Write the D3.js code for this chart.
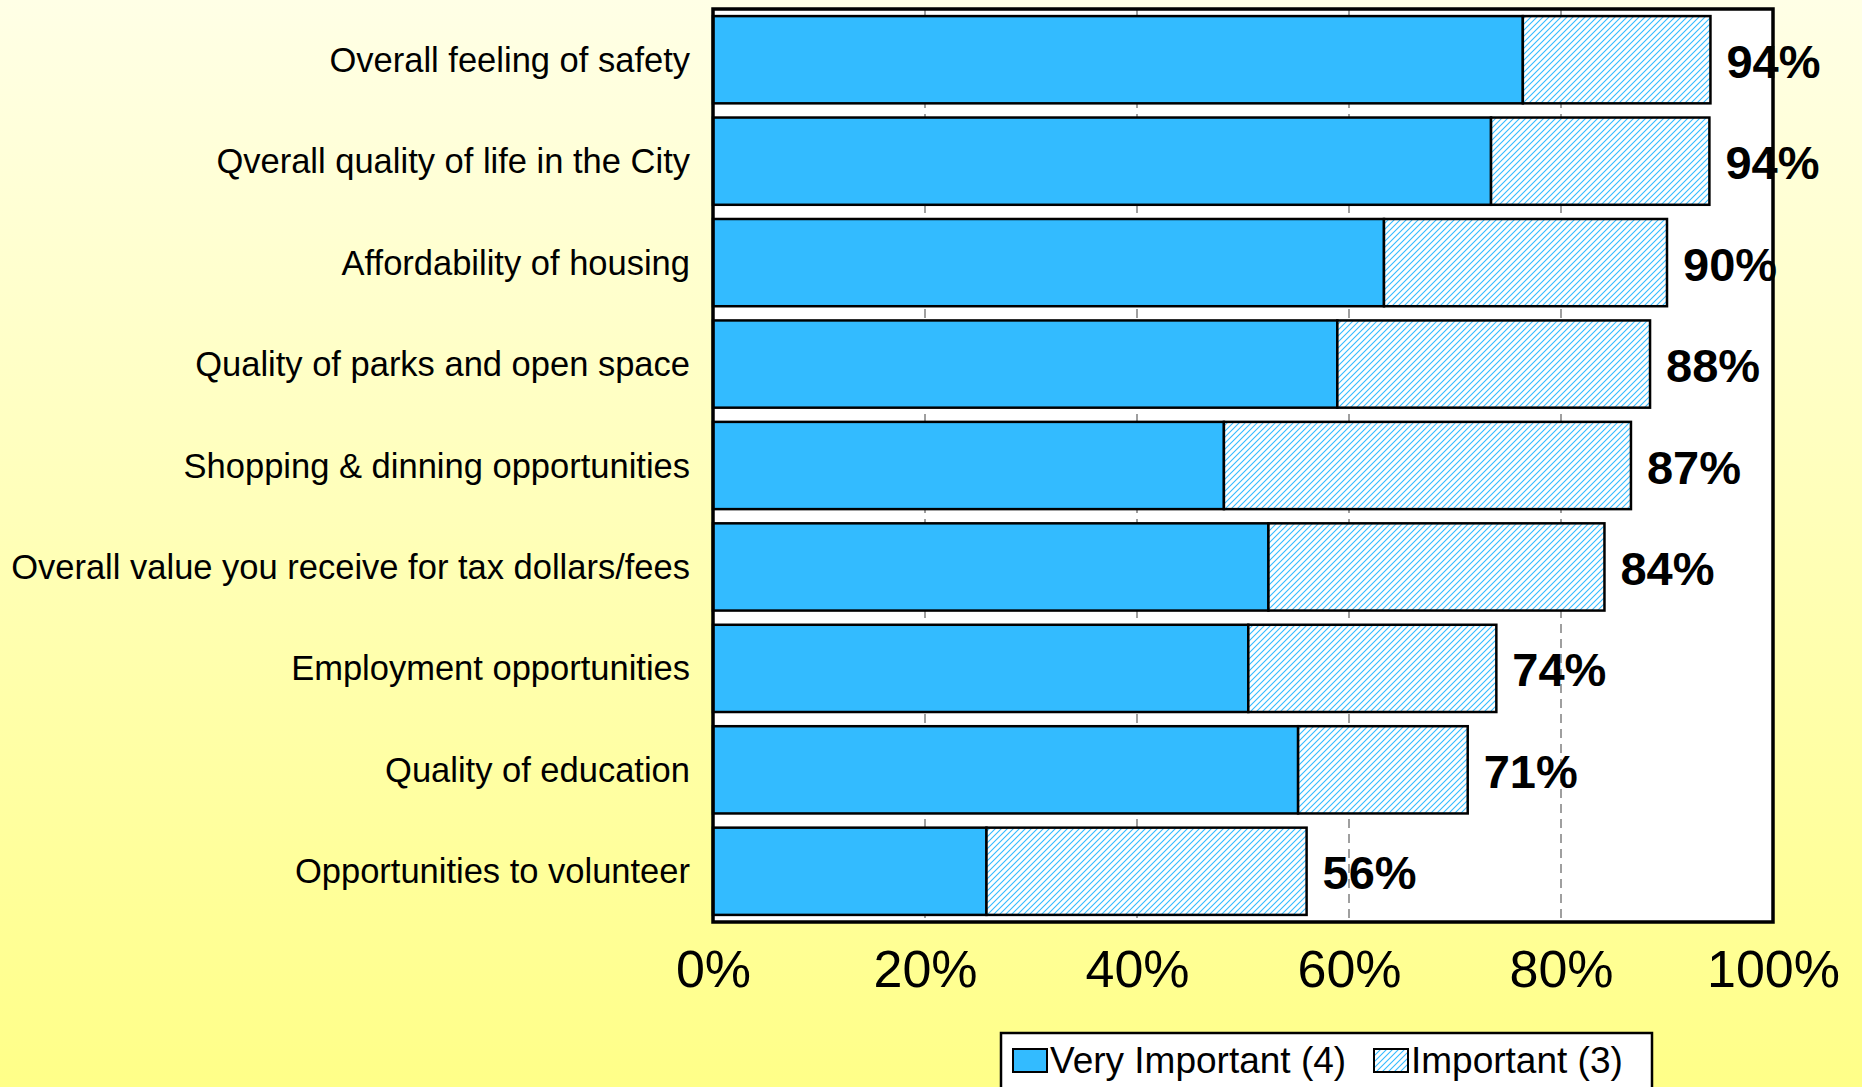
<!DOCTYPE html>
<html><head><meta charset="utf-8">
<script src="https://cdn.jsdelivr.net/npm/d3@7"></script>
<style>html,body{margin:0;padding:0;overflow:hidden;}svg{display:block;}</style>
</head><body>
<script>
const categories = [
  "Overall feeling of safety",
  "Qverall quality of life in the City",
  "Affordability of housing",
  "Quality of parks and open space",
  "Shopping & dinning opportunities",
  "Overall value you receive for tax dollars/fees",
  "Employment opportunities",
  "Quality of education",
  "Opportunities to volunteer"
];
const veryImportant = [76.4, 73.4, 63.3, 58.9, 48.2, 52.4, 50.5, 55.2, 25.8];
const important =     [17.7, 20.6, 26.7, 29.5, 38.4, 31.7, 23.4, 16.0, 30.2];
const totalLabels = ["94%", "94%", "90%", "88%", "87%", "84%", "74%", "71%", "56%"];
const tickValues = [0, 20, 40, 60, 80, 100];
const seriesNames = ["Very Important (4)", "Important (3)"];

const W = 1862, H = 1087;
const svg = d3.select("body").append("svg").attr("width", W).attr("height", H);
const defs = svg.append("defs");
const bg = defs.append("linearGradient").attr("id","bg").attr("x1",0).attr("y1",0).attr("x2",0).attr("y2",1);
bg.append("stop").attr("offset","0%").attr("stop-color","#FFFFE6");
bg.append("stop").attr("offset","100%").attr("stop-color","#FFFF88");
const pat = defs.append("pattern").attr("id","hatch").attr("patternUnits","userSpaceOnUse")
  .attr("width",6).attr("height",6);
pat.append("rect").attr("width",6).attr("height",6).attr("fill","#fff");
pat.append("path").attr("d","M0,6 L6,0 M-1.5,1.5 L1.5,-1.5 M4.5,7.5 L7.5,4.5")
  .attr("stroke","#33BBFF").attr("stroke-width",1.1);

svg.append("rect").attr("width",W).attr("height",H).attr("fill","url(#bg)");

const x0 = 713, x1 = 1773, y0 = 9, y1 = 922;
const x = d3.scaleLinear().domain([0,100]).range([x0,x1]);
const y = d3.scaleBand().domain(categories).range([y0,y1]).paddingInner(0.14).paddingOuter(0.07);

svg.append("rect").attr("x",x0).attr("y",y0).attr("width",x1-x0).attr("height",y1-y0).attr("fill","#fff");

// gridlines
svg.append("g").selectAll("line").data(tickValues.filter(t=>t>0 && t<100)).join("line")
  .attr("x1",d=>x(d)).attr("x2",d=>x(d)).attr("y1",y0).attr("y2",y1)
  .attr("stroke","#808080").attr("stroke-width",1.5).attr("stroke-dasharray","9,6");

const data = categories.map((c,i)=>({c, v:veryImportant[i], m:important[i], lab: totalLabels[i]}));

const g = svg.append("g");
g.selectAll("rect.v").data(data).join("rect").attr("class","v")
  .attr("x",x(0)).attr("y",d=>y(d.c)).attr("width",d=>x(d.v)-x(0)).attr("height",y.bandwidth())
  .attr("fill","#33BBFF").attr("stroke","#000").attr("stroke-width",2.5);
g.selectAll("rect.m").data(data).join("rect").attr("class","m")
  .attr("x",d=>x(d.v)).attr("y",d=>y(d.c)).attr("width",d=>x(d.v+d.m)-x(d.v)).attr("height",y.bandwidth())
  .attr("fill","url(#hatch)").attr("stroke","#000").attr("stroke-width",2.5);

// frame
svg.append("rect").attr("x",x0).attr("y",y0).attr("width",x1-x0).attr("height",y1-y0)
  .attr("fill","none").attr("stroke","#000").attr("stroke-width",3.5);

// value labels
g.selectAll("text.val").data(data).join("text").attr("class","val")
  .attr("x",d=>x(d.v+d.m)+16).attr("y",d=>y(d.c)+y.bandwidth()/2+18)
  .attr("font-family","Liberation Sans, Arial, sans-serif").attr("font-weight","bold")
  .attr("font-size",47).attr("fill","#000").text(d=>d.lab);

// category labels
const yAxis = d3.axisLeft(y).tickSize(0).tickPadding(23);
const ya = svg.append("g").attr("transform",`translate(${x0},1)`).call(yAxis);
ya.select(".domain").remove();
ya.selectAll("text").attr("font-family","Liberation Sans, Arial, sans-serif").attr("font-size",34.5).attr("fill","#000");

// x axis
const xAxis = d3.axisBottom(x).tickValues(tickValues).tickFormat(d=>d+"%").tickSize(0).tickPadding(28);
const xa = svg.append("g").attr("transform",`translate(0,${y1})`).call(xAxis);
xa.select(".domain").remove();
xa.selectAll("text").attr("font-family","Liberation Sans, Arial, sans-serif").attr("font-size",52).attr("fill","#000");

// legend
const lg = svg.append("g");
lg.append("rect").attr("x",1001).attr("y",1033).attr("width",651).attr("height",80)
  .attr("fill","#fff").attr("stroke","#000").attr("stroke-width",2.5);
const legX = [1013, 1374];
const fills = ["#33BBFF","url(#hatch)"];
seriesNames.forEach((n,i)=>{
  lg.append("rect").attr("x",legX[i]).attr("y",1049).attr("width",34).attr("height",23)
    .attr("fill",fills[i]).attr("stroke","#000").attr("stroke-width",2);
  lg.append("text").attr("x",legX[i]+37).attr("y",1073)
    .attr("font-family","Liberation Sans, Arial, sans-serif").attr("font-size",37).attr("fill","#000").text(n);
});
</script>
</body></html>
